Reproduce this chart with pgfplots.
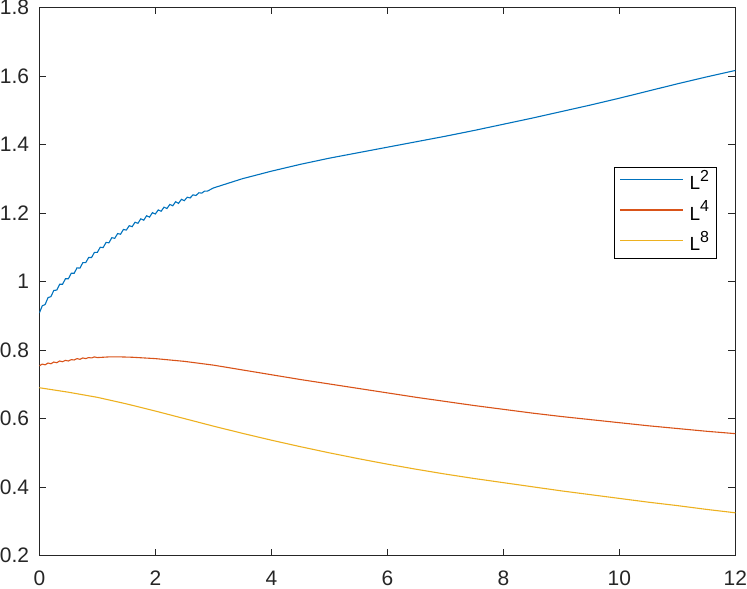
\documentclass[border=0pt]{standalone}
\usepackage{pgfplots}
\pgfplotsset{compat=1.18}
\usepackage{fontspec}
\setmainfont{Liberation Sans}
\definecolor{mblue}{rgb}{0,0.447,0.741}
\definecolor{morange}{rgb}{0.85,0.325,0.098}
\definecolor{myellow}{rgb}{0.929,0.694,0.125}
\definecolor{axgray}{rgb}{0.15,0.15,0.15}
\newcommand\lsup[1]{\raisebox{8.5pt}{\fontsize{16}{16}\selectfont #1}}
\begin{document}
\begin{tikzpicture}
\begin{axis}[
  scale only axis,
  width=697pt, height=549pt,
  xmin=0, xmax=12, ymin=0.2, ymax=1.8,
  xtick={0,2,...,12},
  ytick={0.2,0.4,...,1.8},
  /pgf/number format/assume math mode=true,
  /pgf/number format/.cd, fixed, precision=1, /pgfplots/.cd,
  tick align=inside,
  major tick length=7pt,
  axis line style={axgray, line width=0.8pt},
  tick style={axgray, line width=0.8pt},
  ticklabel style={font=\fontsize{21}{24}\selectfont, text=axgray, inner sep=0pt},
  yticklabel style={xshift=-10pt},
  xticklabel style={yshift=-15pt, text depth=3pt},
  legend cell align=left,
  legend image code/.code={\draw[#1] (0pt,3pt) -- (63pt,3pt);},
  legend style={at={(0.826,0.709)}, anchor=north west, draw=black, line width=0.8pt,
    font=\fontsize{19}{21}\selectfont, inner xsep=5pt, inner ysep=0pt, column sep=4pt,
    nodes={text height=17pt, text depth=2.5pt, inner ysep=5.5pt, inner xsep=2pt}},
]
\addplot[mblue, line width=1.1pt] coordinates {
(0.00,0.908)(0.05,0.929)(0.10,0.933)(0.15,0.953)(0.20,0.956)(0.25,0.974)(0.30,0.975)
(0.35,0.992)(0.40,0.992)(0.45,1.008)(0.50,1.008)(0.55,1.024)(0.60,1.024)(0.65,1.040)
(0.70,1.039)(0.75,1.055)(0.80,1.055)(0.85,1.070)(0.90,1.070)(0.95,1.085)(1.00,1.085)
(1.05,1.100)(1.10,1.099)(1.15,1.114)(1.20,1.113)(1.25,1.128)(1.30,1.126)(1.35,1.140)
(1.40,1.138)(1.45,1.152)(1.50,1.150)(1.55,1.163)(1.60,1.160)(1.65,1.173)(1.70,1.170)
(1.75,1.183)(1.80,1.179)(1.85,1.192)(1.90,1.188)(1.95,1.201)(2.00,1.197)(2.05,1.209)
(2.10,1.205)(2.15,1.217)(2.20,1.213)(2.25,1.225)(2.30,1.221)(2.35,1.233)(2.40,1.228)
(2.45,1.240)(2.50,1.236)(2.55,1.246)(2.60,1.244)(2.65,1.253)(2.70,1.251)(2.75,1.259)
(2.80,1.258)(2.85,1.264)(2.90,1.264)(3.00,1.273)(3.50,1.300)(4.00,1.322)(4.50,1.342)
(5.00,1.360)(5.50,1.376)(6.00,1.392)(6.50,1.408)(7.00,1.424)(7.50,1.441)(8.00,1.459)
(8.50,1.477)(9.00,1.496)(9.50,1.515)(10.00,1.535)(10.50,1.556)(11.00,1.577)(11.50,1.597)
(12.00,1.616)
};
\addlegendentry{L\lsup{2}}
\addplot[morange, line width=1.1pt] coordinates {
(0.00,0.754)(0.05,0.759)(0.10,0.757)(0.15,0.762)(0.20,0.760)(0.25,0.765)(0.30,0.763)
(0.35,0.768)(0.40,0.766)(0.45,0.770)(0.50,0.768)(0.55,0.772)(0.60,0.771)(0.65,0.775)
(0.70,0.773)(0.75,0.777)(0.80,0.775)(0.85,0.778)(0.90,0.777)(0.95,0.780)(1.00,0.778)
(1.20,0.780)(1.40,0.780)(1.60,0.779)(1.80,0.777)(2.00,0.775)(2.50,0.767)(3.00,0.756)
(3.50,0.742)(4.00,0.728)(4.50,0.714)(5.00,0.701)(5.50,0.688)(6.00,0.675)(6.50,0.662)
(7.00,0.650)(7.50,0.638)(8.00,0.627)(8.50,0.616)(9.00,0.606)(9.50,0.597)(10.00,0.588)
(10.50,0.579)(11.00,0.571)(11.50,0.563)(12.00,0.556)
};
\addlegendentry{L\lsup{4}}
\addplot[myellow, line width=1.1pt] coordinates {
(0.0,0.690)(0.5,0.677)(1.0,0.662)(1.5,0.643)(2.0,0.622)(2.5,0.600)(3.0,0.578)
(3.5,0.557)(4.0,0.537)(4.5,0.518)(5.0,0.500)(5.5,0.483)(6.0,0.467)(6.5,0.452)
(7.0,0.438)(7.5,0.425)(8.0,0.413)(8.5,0.401)(9.0,0.389)(9.5,0.378)(10.0,0.367)
(10.5,0.356)(11.0,0.346)(11.5,0.335)(12.0,0.325)
};
\addlegendentry{L\lsup{8}}
\end{axis}
\end{tikzpicture}
\end{document}
